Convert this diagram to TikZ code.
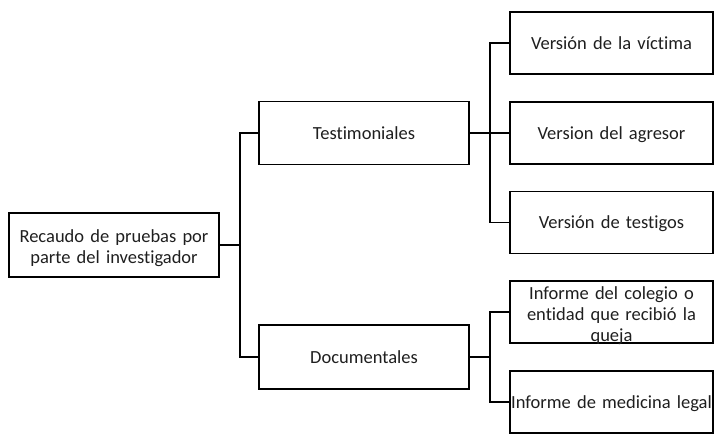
\documentclass[tikz,border=0pt]{standalone}
\usepackage{fontspec}
\setmainfont{Carlito}[Ligatures=NoCommon]
\begin{document}
\begin{tikzpicture}[x=1pt,y=-1pt,
  box/.style={draw=black,line width=1.8pt,fill=white,inner sep=0pt,align=center,
    font=\fontsize{18.5}{21}\selectfont,text=black!88,text height=13pt,text depth=1pt},
  leaf/.style={box,minimum width=203pt,minimum height=62pt,text width=202pt},
  mid/.style={box,minimum width=210pt,minimum height=63pt},
  link/.style={draw=black,line width=1.8pt}]
\useasboundingbox (0,0) rectangle (714,434);
\node[box,minimum width=210pt,minimum height=64pt,text width=205pt,text height=16pt,text depth=22pt] (root) at (114,245) {Recaudo de pruebas por\\parte del investigador};
\node[mid] (testi) at (364,133) {Testimoniales};
\node[mid,minimum height=64pt] (docu) at (364,357) {Documentales};
\node[leaf] (v1) at (611.5,43) {Versión de la víctima};
\node[leaf] (v2) at (611.5,133) {Version del agresor};
\node[leaf] (v3) at (611.5,222.5) {Versión de testigos};
\node[leaf,text height=16pt,text depth=42pt] (i4) at (611.5,312) {Informe del colegio o\\entidad que recibió la\\queja};
\node[leaf] (i5) at (611.5,402) {Informe de medicina legal};
\path[link] (root.east) -- ++(20,0) coordinate (t1) |- (testi.west);
\path[link] (t1) |- (docu.west);
\path[link] (testi.east) -- ++(20,0) coordinate (t2) |- (v1.west);
\path[link] (t2) |- (v2.west);
\path[link] (t2) |- (v3.west);
\path[link] (docu.east) -- ++(20,0) coordinate (t3) |- (i4.west);
\path[link] (t3) |- (i5.west);
\end{tikzpicture}
\end{document}
